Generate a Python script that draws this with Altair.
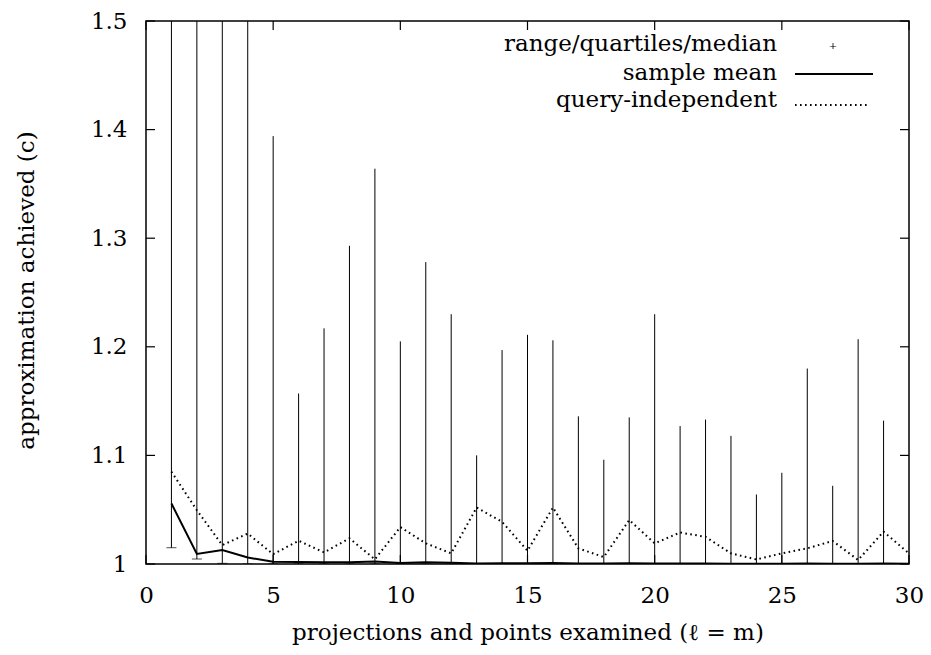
import altair as alt
import pandas as pd

FONT = "DejaVu Serif"
FS = 23

# ---- data ----
range_x = list(range(1, 30))
range_min = [1.015, 1.0046, 1.0006] + [1.0] * 26
range_max = [1.62, 1.58, 1.66, 1.55, 1.394, 1.157, 1.217, 1.293, 1.364, 1.205,
             1.278, 1.230, 1.100, 1.197, 1.211, 1.206, 1.136, 1.096, 1.135, 1.230,
             1.127, 1.133, 1.118, 1.064, 1.084, 1.180, 1.072, 1.207, 1.132]

line_x = list(range(1, 31))
mean_vals = [1.0557, 1.0092, 1.0128, 1.0060, 1.0020, 1.0018, 1.0015, 1.0015, 1.0024, 1.0010,
             1.0015, 1.0012, 1.0005, 1.0008, 1.0006, 1.0009, 1.0005, 1.0004, 1.0006, 1.0005,
             1.0004, 1.0005, 1.0003, 1.0003, 1.0003, 1.0004, 1.0003, 1.0003, 1.0004, 1.0003]
qi_vals = [1.085, 1.0495, 1.0174, 1.028, 1.009, 1.0214, 1.0107, 1.0236, 1.0043, 1.034,
           1.019, 1.0098, 1.052, 1.0388, 1.0122, 1.052, 1.0144, 1.0064, 1.0405, 1.019,
           1.029, 1.025, 1.0098, 1.0042, 1.0098, 1.0144, 1.0212, 1.0037, 1.0298, 1.0098]

x_ticks = [0, 5, 10, 15, 20, 25, 30]
y_ticks = [1.0, 1.1, 1.2, 1.3, 1.4, 1.5]
legend_labels = ["range/quartiles/median", "sample mean", "query-independent"]

W, H = 763, 543

xscale = alt.Scale(domain=[0, 30], nice=False, zero=False)
yscale = alt.Scale(domain=[1, 1.5], nice=False, zero=False)

xaxis = alt.Axis(values=x_ticks, format="d", ticks=False, domain=False, grid=False,
                 labelFont=FONT, labelFontSize=FS, labelColor="black", labelPadding=20,
                 labelFlush=False, labelOverlap=False,
                 title="projections and points examined (ℓ = m)",
                 titleFont=FONT, titleFontSize=FS, titleFontWeight="normal", titleColor="black",
                 titleBaseline="alphabetic", titleY=75)
yaxis = alt.Axis(values=y_ticks, format="~g", ticks=False, domain=False, grid=False,
                 labelFont=FONT, labelFontSize=FS, labelColor="black", labelPadding=19,
                 labelFlush=False, labelOverlap=False,
                 title="approximation achieved (c)",
                 titleFont=FONT, titleFontSize=FS, titleFontWeight="normal", titleColor="black",
                 titleBaseline="alphabetic", titleAngle=270, titleAlign="center",
                 titleX=-113, titleY=269)


def X(field):
    return alt.X(field, type="quantitative", scale=xscale, axis=xaxis)


def Y(field):
    return alt.Y(field, type="quantitative", scale=yscale, axis=yaxis)


df_range = pd.DataFrame({"x": range_x, "ymin": range_min, "ymax": range_max})
df_mean = pd.DataFrame({"x": line_x, "y": mean_vals})
df_qi = pd.DataFrame({"x": line_x, "y": qi_vals})
df_xt = pd.DataFrame({"x": x_ticks})
df_yt = pd.DataFrame({"y": y_ticks})

ranges = alt.Chart(df_range).mark_rule(color="black", strokeWidth=1, clip=True).encode(
    x=X("x"), y=Y("ymin"), y2="ymax")
whisk = alt.Chart(df_range).mark_tick(color="black", orient="horizontal", size=10,
                                      thickness=1, clip=True).encode(x=X("x"), y=Y("ymin"))
qi = alt.Chart(df_qi).mark_line(color="black", strokeWidth=2, strokeDash=[1.6, 3.4],
                                clip=True).encode(x=X("x"), y=Y("y"))
mean = alt.Chart(df_mean).mark_line(color="black", strokeWidth=2, clip=True).encode(
    x=X("x"), y=Y("y"))

tick_len = 9
ytick_l = alt.Chart(df_yt).mark_rule(color="black", strokeWidth=1.2).encode(
    y=Y("y"), x=alt.value(0), x2=alt.value(tick_len))
ytick_r = alt.Chart(df_yt).mark_rule(color="black", strokeWidth=1.2).encode(
    y=Y("y"), x=alt.value(W - tick_len), x2=alt.value(W))
xtick_b = alt.Chart(df_xt).mark_rule(color="black", strokeWidth=1.2).encode(
    x=X("x"), y=alt.value(H), y2=alt.value(H - tick_len))
xtick_t = alt.Chart(df_xt).mark_rule(color="black", strokeWidth=1.2).encode(
    x=X("x"), y=alt.value(0), y2=alt.value(tick_len))

# ---- legend (upper right) ----
text_x = 631
rows_y = [30, 59, 86]
leg_layers = []
for lab, ty in zip(legend_labels, rows_y):
    leg_layers.append(
        alt.Chart(pd.DataFrame({"t": [lab]})).mark_text(
            font=FONT, fontSize=FS, align="right", baseline="alphabetic", color="black"
        ).encode(x=alt.value(text_x), y=alt.value(ty), text="t:N"))

leg_plus = alt.Chart(pd.DataFrame({"t": ["+"]})).mark_text(
    font=FONT, fontSize=10, align="center", baseline="middle", color="black"
).encode(x=alt.value(687), y=alt.value(25), text="t:N")
leg_solid = alt.Chart(pd.DataFrame({"t": ["mean"]})).mark_rule(color="black", strokeWidth=2).encode(
    x=alt.value(649), x2=alt.value(727), y=alt.value(53))
leg_dot = alt.Chart(pd.DataFrame({"t": ["qi"]})).mark_rule(
    color="black", strokeWidth=2, strokeDash=[1.6, 3.4]).encode(
    x=alt.value(649), x2=alt.value(722), y=alt.value(84))

chart = alt.layer(
    ranges, whisk, qi, mean, ytick_l, ytick_r, xtick_b, xtick_t,
    *leg_layers, leg_plus, leg_solid, leg_dot
).properties(
    width=W, height=H,
    autosize=alt.AutoSizeParams(type="none"),
    padding={"left": 138, "top": 13, "right": 14, "bottom": 82},
    background="white",
).configure_view(stroke="black", strokeWidth=1.5)

chart.save("out.html", embed_options={"renderer": "svg", "actions": False})
